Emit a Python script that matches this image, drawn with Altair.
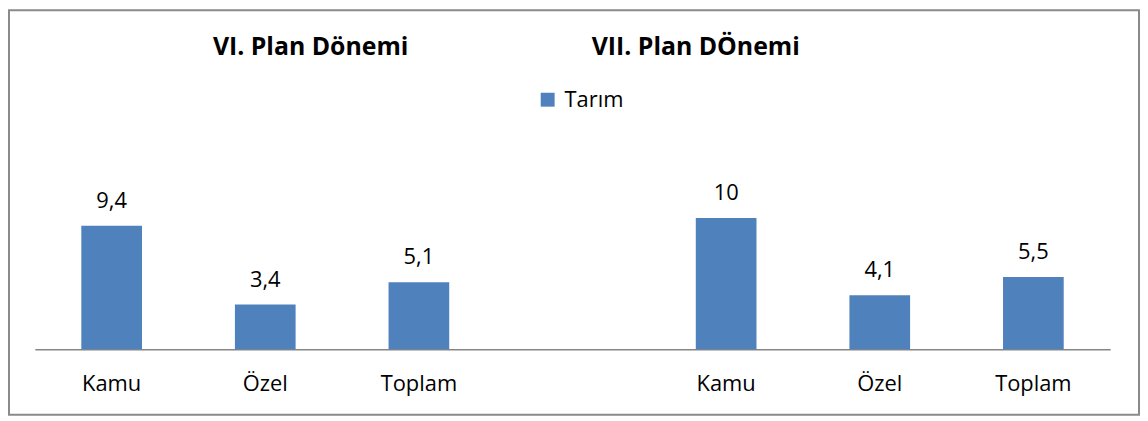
import altair as alt
import pandas as pd

# ---- data ----
periods = ["VI. Plan Dönemi", "VII. Plan DÖnemi"]
categories = ["Kamu", "Özel", "Toplam"]
vi_values = [9.4, 3.4, 5.1]
vii_values = [10, 4.1, 5.5]
series_name = "Tarım"

# slot keys: 3 categories, an empty gap slot, 3 categories
slots = [f"VI|{c}" for c in categories] + ["gap|"] + [f"VII|{c}" for c in categories]

rows = []
for c, v in zip(categories, vi_values):
    rows.append({"slot": f"VI|{c}", "value": v, "series": series_name})
for c, v in zip(categories, vii_values):
    rows.append({"slot": f"VII|{c}", "value": v, "series": series_name})
df = pd.DataFrame(rows)
df["label"] = df["value"].map(lambda v: f"{v:g}".replace(".", ","))

FONT = "Open Sans"
BLUE = "#4f81bd"
W, H = 1082, 330

x_enc = alt.X(
    "slot:N",
    scale=alt.Scale(domain=slots, paddingInner=0.605, paddingOuter=0.3025),
    axis=alt.Axis(
        title=None,
        labelExpr="split(datum.label, '|')[1]",
        ticks=False,
        domainColor="#868686",
        domainWidth=1.5,
        labelAngle=0,
        labelFont=FONT,
        labelFontSize=22,
        labelColor="black",
        labelBaseline="alphabetic",
        labelPadding=42,
        grid=False,
    ),
)
y_enc = alt.Y("value:Q", scale=alt.Scale(domain=[0, 25], nice=False), axis=None)

base = alt.Chart(df)

bars = base.mark_bar(color=BLUE).encode(
    x=x_enc,
    y=y_enc,
    color=alt.Color(
        "series:N",
        scale=alt.Scale(range=[BLUE]),
        legend=alt.Legend(
            title=None,
            orient="none",
            legendX=505,
            legendY=68,
            symbolType="square",
            symbolSize=196,
            symbolStrokeWidth=0,
            labelFont=FONT,
            labelFontSize=22,
            labelColor="black",
            labelOffset=6,
        ),
    ),
)

values_text = base.mark_text(
    baseline="alphabetic", dy=-18, font=FONT, fontSize=22, color="black"
).encode(x=alt.X("slot:N", scale=alt.Scale(domain=slots)), y="value:Q", text="label:N")

one = pd.DataFrame({"a": [0]})

title1 = alt.Chart(one).mark_text(
    text=periods[0], font=FONT, fontSize=25, fontWeight="bold", color="black",
    baseline="alphabetic", align="center",
).encode(x=alt.value(277.5), y=alt.value(34))

title2 = alt.Chart(one).mark_text(
    text=periods[1], font=FONT, fontSize=25, fontWeight="bold", color="black",
    baseline="alphabetic", align="center",
).encode(x=alt.value(665), y=alt.value(34))

frame = alt.Chart(one).mark_rect(
    fillOpacity=0, stroke="#8a8a8a", strokeWidth=2
).encode(x=alt.value(-26), x2=alt.value(1111), y=alt.value(-11), y2=alt.value(396))

chart = (
    alt.layer(frame, bars, values_text, title1, title2)
    .properties(
        width=W,
        height=H,
        autosize=alt.AutoSizeParams(type="none"),
        padding={"left": 27, "top": 12, "right": 30, "bottom": 68},
        background="white",
    )
    .configure_view(stroke=None)
)

chart.save("out.html", embed_options={"renderer": "svg", "actions": False})
